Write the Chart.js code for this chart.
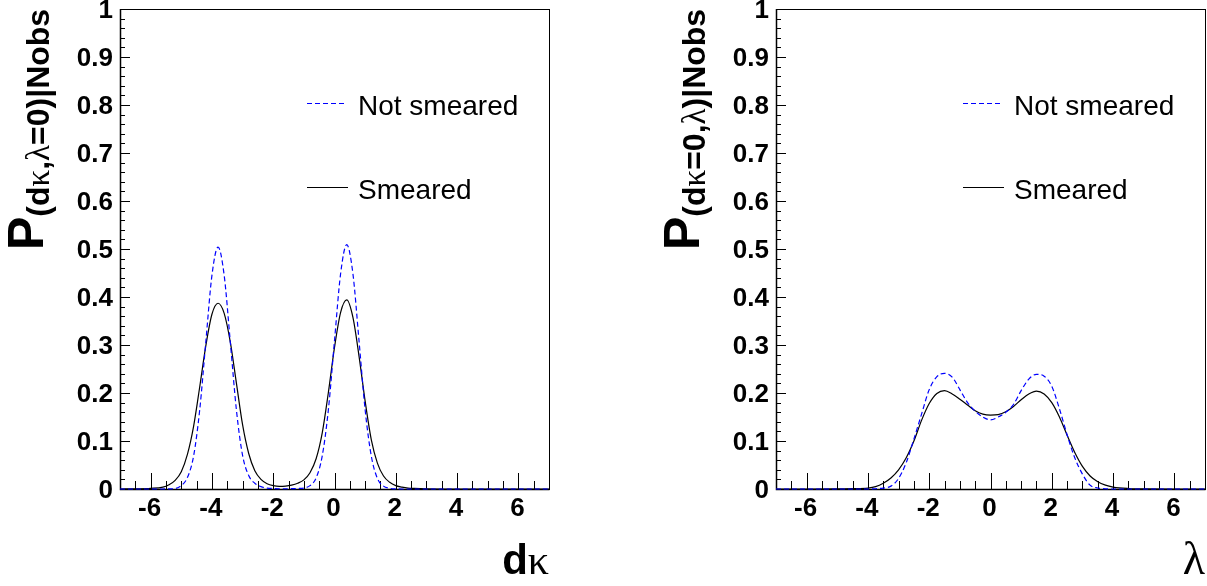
<!DOCTYPE html>
<html>
<head>
<meta charset="utf-8">
<script src="https://cdn.jsdelivr.net/npm/chart.js@4.4.1/dist/chart.umd.min.js"></script>
<style>
  html, body { margin: 0; padding: 0; background: #fff; }
  #wrap { position: relative; width: 1207px; height: 586px; overflow: hidden; }
  canvas { position: absolute; top: 0; }
</style>
</head>
<body>
<div id="wrap">
  <canvas id="chartDk" width="656" height="586" style="left:0"></canvas>
  <canvas id="chartLambda" width="551" height="586" style="left:656px"></canvas>
</div>
<script>
// ── data ──────────────────────────────────────────────────────────────
const dkX = [-7, -6.5, -6, -5.6, -5.4, -5.2, -5.0, -4.8, -4.6, -4.4, -4.2, -4.0, -3.8, -3.6, -3.4, -3.2, -3.0,
  -2.8, -2.6, -2.4, -2.2, -2.0, -1.8, -1.6, -1.4, -1.2, -1.0, -0.8, -0.6, -0.4, -0.2, 0.0, 0.2, 0.4, 0.6,
  0.8, 1.0, 1.2, 1.4, 1.6, 1.8, 2.0, 2.2, 2.4, 2.6, 3.0, 3.5, 4, 5, 6, 7];
const dkSmeared = [0, 0.0004, 0.0014, 0.004, 0.009, 0.018, 0.036, 0.072, 0.130, 0.212, 0.298, 0.364, 0.387,
  0.366, 0.306, 0.220, 0.134, 0.074, 0.038, 0.020, 0.011, 0.007, 0.0055, 0.006, 0.008, 0.012, 0.019, 0.034,
  0.063, 0.117, 0.201, 0.295, 0.368, 0.394, 0.358, 0.277, 0.183, 0.103, 0.054, 0.027, 0.014, 0.007, 0.004,
  0.002, 0.0012, 0.0003, 0, 0, 0, 0, 0];
const dkNotSmeared = [0, 0, 0, 0, 0.0003, 0.001, 0.007, 0.024, 0.068, 0.164, 0.306, 0.445, 0.504, 0.445,
  0.306, 0.164, 0.070, 0.028, 0.012, 0.005, 0.002, 0.001, 0.0005, 0.0005, 0.0006, 0.001, 0.002, 0.007, 0.023,
  0.069, 0.165, 0.309, 0.449, 0.509, 0.449, 0.309, 0.165, 0.069, 0.022, 0.006, 0.0015, 0.0003, 0, 0, 0, 0, 0,
  0, 0, 0, 0];

const lamX = [-7, -6, -5, -4.5, -4.0, -3.75, -3.5, -3.25, -3.0, -2.75, -2.5, -2.25, -2.0, -1.75, -1.5, -1.25,
  -1.0, -0.75, -0.5, -0.25, 0, 0.25, 0.5, 0.75, 1.0, 1.25, 1.5, 1.75, 2.0, 2.25, 2.5, 2.75, 3.0, 3.25, 3.5,
  3.75, 4.0, 4.5, 5, 6, 7];
const lamSmeared = [0, 0, 0.0002, 0.0006, 0.002, 0.005, 0.012, 0.023, 0.040, 0.065, 0.100, 0.143, 0.178,
  0.199, 0.205, 0.198, 0.187, 0.175, 0.163, 0.156, 0.154, 0.155, 0.161, 0.172, 0.186, 0.198, 0.204, 0.198,
  0.180, 0.150, 0.112, 0.076, 0.047, 0.027, 0.015, 0.008, 0.004, 0.001, 0.0002, 0, 0];
const lamNotSmeared = [0, 0, 0, 0, 0, 0.0005, 0.002, 0.006, 0.022, 0.055, 0.104, 0.156, 0.207, 0.234, 0.241,
  0.233, 0.207, 0.180, 0.162, 0.150, 0.144, 0.150, 0.160, 0.176, 0.205, 0.229, 0.239, 0.235, 0.214, 0.167,
  0.113, 0.065, 0.031, 0.008, 0.002, 0.0005, 0, 0, 0, 0, 0];

const xTickValues = [-6, -4, -2, 0, 2, 4, 6];
const xTickLabels = ['-6', '-4', '-2', '0', '2', '4', '6'];
const yTickValues = [0, 0.1, 0.2, 0.3, 0.4, 0.5, 0.6, 0.7, 0.8, 0.9, 1];
const yTickLabels = ['0', '0.1', '0.2', '0.3', '0.4', '0.5', '0.6', '0.7', '0.8', '0.9', '1'];
const legendLabels = ['Not smeared', 'Smeared'];

// ── styling ───────────────────────────────────────────────────────────
const SANS = '"Liberation Sans", Arial, Helvetica, sans-serif';
const SERIF = '"Liberation Serif", "Times New Roman", serif';
const F_P = 'bold 50px ' + SANS;
const F_SUB = 'bold 32px ' + SANS;
const F_SUBG = '33px ' + SERIF;

function toPoints(xs, ys) {
  return xs.map((x, i) => ({ x: x, y: ys[i] }));
}

function runsWidth(ctx, runs) {
  return runs.reduce((w, r) => { ctx.font = r.font; return w + ctx.measureText(r.text).width; }, 0);
}

function drawRuns(ctx, runs, x0, y0) {
  let cx = x0;
  runs.forEach(r => {
    ctx.font = r.font;
    ctx.fillText(r.text, cx, y0 + (r.dy || 0));
    cx += ctx.measureText(r.text).width;
  });
}

// ROOT-like frame: inward ticks, labels, titles, legend
function rootFrame(cfg) {
  return {
    id: 'rootFrame',
    beforeDatasetsDraw(chart) {
      const { ctx, chartArea: a, scales: { x, y } } = chart;
      ctx.save();
      ctx.strokeStyle = '#000';
      ctx.lineWidth = 1;
      ctx.strokeRect(a.left + 0.5, a.top + 0.5, a.right - a.left, a.bottom - a.top);
      ctx.beginPath();
      for (let i = 0; i <= 28; i++) {
        const v = -7 + i * 0.5;
        const px = Math.round(x.getPixelForValue(v)) + 0.5;
        const len = xTickValues.indexOf(v) >= 0 ? 16 : 8;
        ctx.moveTo(px, a.bottom);
        ctx.lineTo(px, a.bottom - len);
      }
      for (let i = 0; i <= 50; i++) {
        const py = Math.round(y.getPixelForValue(i * 0.02)) + 0.5;
        const len = i % 5 === 0 ? 10 : 5;
        ctx.moveTo(a.left, py);
        ctx.lineTo(a.left + len, py);
      }
      ctx.stroke();
      // axis lines a bit heavier
      ctx.lineWidth = 1.5;
      ctx.beginPath();
      ctx.moveTo(a.left + 0.5, a.top);
      ctx.lineTo(a.left + 0.5, a.bottom + 0.5);
      ctx.lineTo(a.right + 0.5, a.bottom + 0.5);
      ctx.stroke();
      ctx.restore();
    },
    afterDatasetsDraw(chart) {
      const { ctx, chartArea: a, scales: { x, y } } = chart;
      ctx.save();
      ctx.fillStyle = '#000';

      // tick labels
      ctx.font = 'bold 26px ' + SANS;
      ctx.textAlign = 'center';
      ctx.textBaseline = 'alphabetic';
      xTickValues.forEach((v, i) => ctx.fillText(xTickLabels[i], x.getPixelForValue(v) - 1, a.bottom + 27));
      ctx.textAlign = 'right';
      yTickValues.forEach((v, i) => ctx.fillText(yTickLabels[i], a.left - 7, y.getPixelForValue(v) + 9));

      // x title, right aligned on the frame
      ctx.textAlign = 'left';
      const w = runsWidth(ctx, cfg.xTitle);
      drawRuns(ctx, cfg.xTitle, a.right - w, 574);

      // y title, rotated
      ctx.save();
      ctx.translate(43, 250);
      ctx.rotate(-Math.PI / 2);
      drawRuns(ctx, cfg.yTitle, 0, 0);
      ctx.restore();

      // legend
      const lx = a.left + 187;
      ctx.lineWidth = 1.2;
      ctx.strokeStyle = '#0000ff';
      ctx.setLineDash([5, 3]);
      ctx.beginPath();
      ctx.moveTo(lx, 103.5);
      ctx.lineTo(lx + 39, 103.5);
      ctx.stroke();
      ctx.setLineDash([]);
      ctx.strokeStyle = '#000';
      ctx.beginPath();
      ctx.moveTo(lx, 187.5);
      ctx.lineTo(lx + 41, 187.5);
      ctx.stroke();
      ctx.font = '28px ' + SANS;
      ctx.fillText(legendLabels[0], a.left + 238, 115);
      ctx.fillText(legendLabels[1], a.left + 238, 199);
      ctx.restore();
    }
  };
}

function makeChart(id, xs, notSmeared, smeared, cfg) {
  const line = { pointRadius: 0, borderWidth: 1.2, cubicInterpolationMode: 'monotone', fill: false, clip: false };
  return new Chart(document.getElementById(id), {
    type: 'line',
    data: {
      datasets: [
        { ...line, label: legendLabels[0], data: toPoints(xs, notSmeared), borderColor: '#0000ff', borderDash: [5, 3] },
        { ...line, label: legendLabels[1], data: toPoints(xs, smeared), borderColor: '#000000' }
      ]
    },
    options: {
      responsive: false,
      animation: false,
      events: [],
      layout: { padding: cfg.padding },
      scales: {
        x: { type: 'linear', min: -7, max: 7, display: false },
        y: { type: 'linear', min: 0, max: 1, display: false }
      },
      plugins: { legend: { display: false }, tooltip: { enabled: false } }
    },
    plugins: [rootFrame(cfg)]
  });
}

makeChart('chartDk', dkX, dkNotSmeared, dkSmeared, {
  padding: { left: 120, top: 9, right: 107, bottom: 97 },
  xTitle: [{ text: 'd', font: 'bold 42px ' + SANS }, { text: 'κ', font: '42px ' + SERIF }],
  yTitle: [
    { text: 'P', font: F_P },
    { text: '(d', font: F_SUB, dy: 6 }, { text: 'κ', font: F_SUBG, dy: 6 },
    { text: ',', font: F_SUB, dy: 6 }, { text: 'λ', font: F_SUBG, dy: 6 },
    { text: '=0)|Nobs', font: F_SUB, dy: 6 }
  ]
});

makeChart('chartLambda', lamX, lamNotSmeared, lamSmeared, {
  padding: { left: 120, top: 9, right: 2, bottom: 97 },
  xTitle: [{ text: 'λ', font: '46px ' + SERIF }],
  yTitle: [
    { text: 'P', font: F_P },
    { text: '(d', font: F_SUB, dy: 6 }, { text: 'κ', font: F_SUBG, dy: 6 },
    { text: '=0,', font: F_SUB, dy: 6 }, { text: 'λ', font: F_SUBG, dy: 6 },
    { text: ')|Nobs', font: F_SUB, dy: 6 }
  ]
});
</script>
</body>
</html>
